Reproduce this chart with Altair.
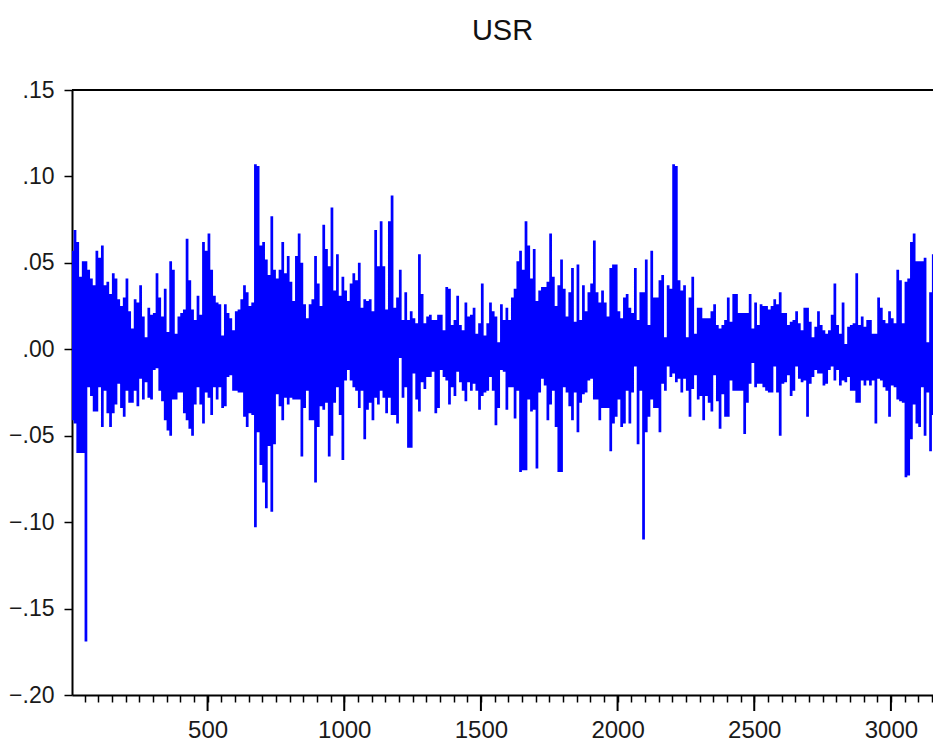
import altair as alt
import pandas as pd

# Series USR, read from the picture as the high / low envelope of each block of
# 10 observations (values in thousandths). Block k covers observations 10k..10k+10.
usr_high = [
    57, 69, 62, 42, 51, 51, 46, 41, 37, 57, 53, 60, 37, 39, 32, 44, 41, 29, 25, 30,
    41, 22, 12, 29, 27, 37, 19, 7, 24, 20, 21, 44, 30, 19, 35, 10, 51, 46, 9, 19,
    21, 23, 64, 40, 23, 17, 31, 20, 62, 57, 67, 46, 31, 27, 26, 8, 26, 21, 18, 11,
    22, 23, 29, 37, 33, 25,
    27, 107, 106, 60, 62, 52, 43, 77, 46, 41, 46, 62, 44, 54, 39, 28, 54, 67, 50, 26,
    18, 26, 29, 54, 38, 25, 72, 58, 48, 82, 34, 55, 31, 42, 34, 28, 38, 44, 40, 50,
    24, 29, 28, 29, 22, 69, 48, 74, 48, 23, 74, 89, 24, 30, 46, 17, 33, 17, 22, 18,
    15, 55, 32, 15,
    19, 20, 17, 17, 20, 20, 11, 36, 35, 14, 17, 31, 14, 11, 27, 19, 20, 24, 9, 15,
    38, 8, 15, 27, 22, 19, 4, 26, 17, 24, 17, 30, 35, 51, 57, 46, 74, 60, 41, 58,
    28, 34, 36, 36, 39, 67, 42, 25, 37, 52, 35, 19, 33, 47, 16, 49, 17, 37, 22, 33,
    38, 63, 33, 27,
    34, 27, 19, 47, 49, 49, 22, 18, 30, 32, 24, 21, 47, 17, 33, 33, 52, 14, 57, 30,
    30, 40, 43, 7, 37, 35, 107, 106, 40, 34, 37, 7, 30, 42, 9, 24, 24, 18, 18, 18,
    22, 26, 14, 12, 14, 17, 30, 16, 32, 32, 21, 21, 21, 21, 32, 12, 27, 14, 26, 25,
    25, 23, 25, 29,
    26, 33, 21, 21, 14, 16, 17, 22, 15, 11, 24, 24, 16, 7, 13, 22, 14, 11, 9, 11,
    20, 38, 14, 9, 27, 3, 13, 14, 15, 44, 14, 19, 13, 17, 17, 9, 9, 30, 24, 17,
    15, 22, 18, 15, 46, 40, 15, 39, 41, 62, 67, 51, 51, 51, 53, 4, 33, 55,
]
usr_low = [
    -41, -43, -60, -60, -60, -169, -22, -27, -36, -36, -22, -45, -24, -37, -45, -37, -32, -20, -34, -39,
    -24, -31, -31, -24, -33, -17, -29, -19, -28, -29, -12, -11, -24, -30, -41, -47, -50, -29, -29, -25,
    -25, -37, -41, -46, -50, -32, -22, -32, -43, -25, -28, -38, -22, -29, -22, -34, -33, -16, -15, -24,
    -24, -25, -25, -39, -45, -37,
    -38, -103, -48, -67, -77, -92, -56, -94, -55, -26, -33, -41, -28, -32, -28, -29, -29, -29, -62, -34,
    -24, -41, -41, -77, -45, -33, -35, -31, -62, -50, -31, -22, -38, -64, -18, -12, -18, -22, -24, -34,
    -24, -52, -35, -31, -41, -28, -32, -24, -28, -37, -28, -38, -38, -43, -5, -28, -22, -57, -57, -14,
    -29, -36, -19, -23,
    -16, -16, -13, -37, -34, -12, -16, -18, -32, -22, -27, -13, -19, -24, -30, -19, -24, -20, -24, -35,
    -27, -25, -24, -16, -24, -44, -34, -12, -13, -35, -22, -22, -40, -24, -71, -70, -70, -29, -36, -35,
    -69, -25, -17, -21, -41, -32, -24, -45, -71, -71, -22, -25, -33, -41, -25, -48, -31, -26, -25, -18,
    -17, -29, -29, -41,
    -34, -34, -34, -59, -43, -39, -29, -45, -43, -24, -43, -25, -10, -55, -24, -110, -48, -39, -29, -34,
    -34, -48, -20, -24, -10, -16, -14, -19, -17, -25, -17, -24, -39, -23, -15, -29, -27, -41, -27, -31,
    -36, -15, -30, -46, -26, -39, -39, -18, -24, -24, -24, -24, -49, -31, -20, -8, -22, -20, -20, -22,
    -24, -25, -25, -10,
    -25, -50, -20, -19, -15, -27, -24, -10, -17, -19, -18, -39, -20, -16, -12, -14, -14, -21, -20, -12,
    -10, -18, -12, -21, -18, -19, -16, -24, -24, -31, -31, -18, -21, -18, -21, -18, -43, -17, -18, -22,
    -24, -39, -21, -22, -29, -30, -31, -74, -73, -52, -32, -43, -45, -22, -50, -25, -59, -38,
]
block = 10
x_minor_ticks = list(range(50, 3151, 50))
x_major_ticks = [500, 1000, 1500, 2000, 2500, 3000]
y_ticks = [-0.20, -0.15, -0.10, -0.05, 0.00, 0.05, 0.10, 0.15]

n = len(usr_high)
obs = [block * k for k in range(n)] + [block * n]
hi = [v / 1000 for v in usr_high] + [usr_high[-1] / 1000]
lo = [v / 1000 for v in usr_low] + [usr_low[-1] / 1000]
df = pd.DataFrame({"obs": obs, "hi": hi, "lo": lo})
majors = pd.DataFrame({"obs": x_major_ticks})

FONT = "Liberation Sans, Arial, sans-serif"
W, H = 861, 605
x_scale = alt.Scale(domain=[4, 3154], nice=False, zero=False)
x_axis = alt.Axis(
    values=x_minor_ticks,
    title=None,
    grid=False,
    domainColor="#000000",
    domainWidth=2,
    tickColor="#000000",
    tickWidth=1.5,
    tickSize=7,
    labelExpr="datum.value % 500 === 0 ? format(datum.value, 'd') : ''",
    labelFont=FONT,
    labelFontSize=24,
    labelColor="#1a1a1a",
    labelPadding=16,
    labelFlush=False,
    labelOverlap=False,
)

series = alt.Chart(df).mark_area(
    interpolate="step-after", color="#0000ff", opacity=1, clip=True
).encode(
    x=alt.X("obs:Q", scale=x_scale, axis=x_axis),
    y=alt.Y(
        "hi:Q",
        scale=alt.Scale(domain=[-0.2, 0.15], nice=False, zero=False),
        axis=alt.Axis(
            values=y_ticks,
            title=None,
            grid=False,
            domainColor="#000000",
            domainWidth=2,
            tickColor="#000000",
            tickWidth=1.5,
            tickSize=8,
            labelExpr="replace(format(datum.value, '.2f'), '0.', '.')",
            labelFont=FONT,
            labelFontSize=23,
            labelColor="#1a1a1a",
            labelPadding=10,
        ),
    ),
    y2="lo:Q",
)

major_ticks = alt.Chart(majors).mark_rule(color="#000000", strokeWidth=2).encode(
    x=alt.X("obs:Q", scale=x_scale, axis=x_axis),
    y=alt.value(H),
    y2=alt.value(H + 16),
)

top_border = alt.Chart(majors).mark_rule(color="#000000", strokeWidth=2).encode(
    x=alt.value(0), x2=alt.value(W), y=alt.value(0)
)

chart = (
    alt.layer(series, major_ticks, top_border)
    .properties(
        width=W,
        height=H,
        title=alt.TitleParams(
            "USR", font=FONT, fontSize=29, fontWeight="normal", color="#111111",
            anchor="middle", offset=33,
        ),
        autosize=alt.AutoSizeParams(type="none"),
        padding={"left": 72, "top": 90, "right": 0, "bottom": 52},
    )
    .configure_view(stroke=None)
    .configure(background="white")
)

chart.save("out.html", embed_options={"renderer": "svg", "actions": False})
